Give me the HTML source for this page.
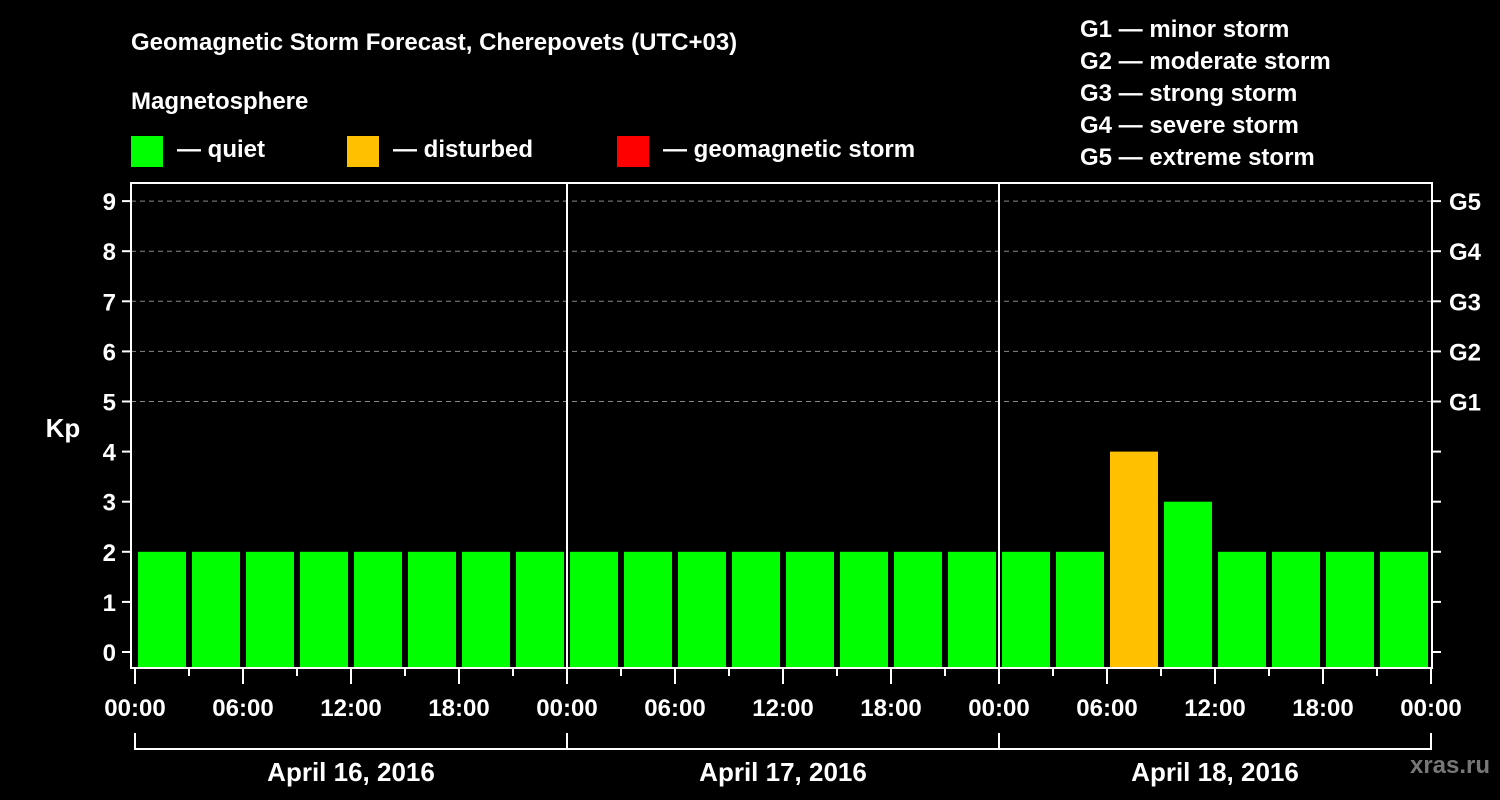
<!DOCTYPE html>
<html><head><meta charset="utf-8"><style>
html,body{margin:0;padding:0;background:#000;}
svg{display:block;font-family:"Liberation Sans",Arial,sans-serif;font-weight:bold;}
</style></head><body>
<svg id="chart" width="1500" height="800" viewBox="0 0 1500 800">
<rect x="0" y="0" width="1500" height="800" fill="#000"/>
<text x="131" y="50" fill="#fff" font-size="24">Geomagnetic Storm Forecast, Cherepovets (UTC+03)</text>
<text x="131" y="109" fill="#fff" font-size="24">Magnetosphere</text>
<g><rect x="131" y="136" width="32" height="31" fill="#00ff00"/><text x="177" y="157" fill="#fff" font-size="24">— quiet</text></g>
<g><rect x="347" y="136" width="32" height="31" fill="#ffc000"/><text x="393" y="157" fill="#fff" font-size="24">— disturbed</text></g>
<g><rect x="617" y="136" width="32" height="31" fill="#ff0000"/><text x="663" y="157" fill="#fff" font-size="24">— geomagnetic storm</text></g>
<g fill="#fff" font-size="24">
<text x="1080" y="37">G1 — minor storm</text>
<text x="1080" y="69">G2 — moderate storm</text>
<text x="1080" y="101">G3 — strong storm</text>
<text x="1080" y="133">G4 — severe storm</text>
<text x="1080" y="165">G5 — extreme storm</text>
</g>
<text x="63" y="437" fill="#fff" font-size="26" text-anchor="middle">Kp</text>
<text x="1450" y="773" fill="#777" font-size="24" text-anchor="middle">xras.ru</text>
<g id="plot"></g>
</svg>
<script>
const kpValues=[2,2,2,2,2,2,2,2, 2,2,2,2,2,2,2,2, 2,2,4,3,2,2,2,2];
const dayLabels=["April 16, 2016","April 17, 2016","April 18, 2016"];
const hourLabels=["00:00","06:00","12:00","18:00"];
const yTicks=[0,1,2,3,4,5,6,7,8,9];
const gLabels=["G1","G2","G3","G4","G5"];
const NS="http://www.w3.org/2000/svg";
const X0=135,X1=1431,PT=183,PB=668,Y0=652,UNIT=50.1;
const slotW=(X1-X0)/kpValues.length;
const y=v=>Y0-v*UNIT;
const x=i=>X0+i*slotW;
const g=document.getElementById('plot');
function mk(t,a){const e=document.createElementNS(NS,t);for(const k in a)e.setAttribute(k,a[k]);g.appendChild(e);return e;}
// gridlines
yTicks.forEach(v=>{
 if(v>=5){const l=mk('line',{x1:131,x2:1432,y1:y(v),y2:y(v),stroke:'#888','stroke-dasharray':'5,4','stroke-width':1});
 
 }
 const t=mk('line',{x1:122,x2:131,y1:y(v),y2:y(v),stroke:'#fff','stroke-width':2});
 
 
 const r=mk('line',{x1:1432,x2:1441,y1:y(v),y2:y(v),stroke:'#fff','stroke-width':2});
 
 
 const lb=mk('text',{x:116,y:y(v)+9,fill:'#fff','font-size':24,'text-anchor':'end'});lb.textContent=v;
 
 
});
gLabels.forEach((s,i)=>{
 const t=mk('text',{x:1449,y:y(5+i)+9,fill:'#fff','font-size':24});t.textContent=s;
 
 
});
// bars
kpValues.forEach((v,i)=>{
 const col=v>=5?'#ff0000':(v>=4?'#ffc000':'#00ff00');
 const b=mk('rect',{x:x(i)+3,y:y(v),width:slotW-6,height:PB-y(v),fill:col});
 
 
});
// frame
const fr=mk('rect',{x:131,y:PT,width:1432-131,height:PB-PT,fill:'none',stroke:'#fff','stroke-width':2});


// day dividers
for(let d=1;d<dayLabels.length;d++){
 const l=mk('line',{x1:x(d*8),x2:x(d*8),y1:PT,y2:PB,stroke:'#fff','stroke-width':2});
 
 
}
// x ticks
for(let i=0;i<=kpValues.length;i++){
 const major=i%2===0;
 const t=mk('line',{x1:x(i),x2:x(i),y1:PB,y2:PB+(major?16:8),stroke:'#fff','stroke-width':2});
 
 
 if(major){const lb=mk('text',{x:x(i),y:716,fill:'#fff','font-size':24,'text-anchor':'middle'});
 lb.textContent=hourLabels[(i/2)%4];
 
 }
}
// day brackets
dayLabels.forEach((s,d)=>{
 const a=x(d*8),b=x(d*8+8);
 const p=mk('path',{d:`M${a},733V749H${b}V733`,fill:'none',stroke:'#fff','stroke-width':2});
 
 
 const t=mk('text',{x:(a+b)/2,y:781,fill:'#fff','font-size':26,'text-anchor':'middle'});t.textContent=s;
 
 
});
</script>
</body></html>
